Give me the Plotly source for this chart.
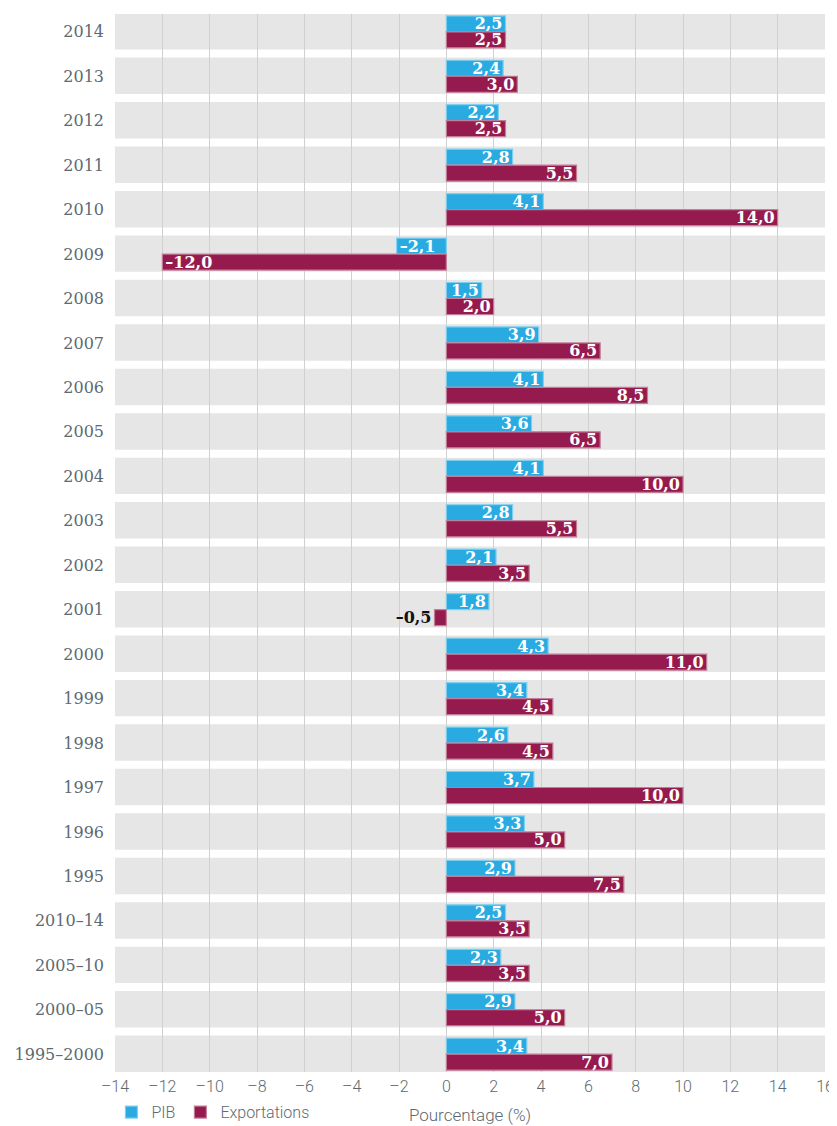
import plotly.graph_objects as go

categories = ["2014", "2013", "2012", "2011", "2010", "2009", "2008", "2007", "2006", "2005",
              "2004", "2003", "2002", "2001", "2000", "1999", "1998", "1997", "1996", "1995",
              "2010–14", "2005–10", "2000–05", "1995–2000"]
pib = [2.5, 2.4, 2.2, 2.8, 4.1, -2.1, 1.5, 3.9, 4.1, 3.6, 4.1, 2.8, 2.1, 1.8, 4.3, 3.4, 2.6, 3.7,
       3.3, 2.9, 2.5, 2.3, 2.9, 3.4]
exportations = [2.5, 3.0, 2.5, 5.5, 14.0, -12.0, 2.0, 6.5, 8.5, 6.5, 10.0, 5.5, 3.5, -0.5, 11.0,
                4.5, 4.5, 10.0, 5.0, 7.5, 3.5, 3.5, 5.0, 7.0]
x_ticks = list(range(-14, 17, 2))

def fmt(v):
    return f"{v:.1f}".replace(".", ",").replace("-", "–")

def tick(v):
    return str(v).replace("-", "–")

n = len(categories)
idx = list(range(n))

label_font = "DejaVu Serif"
sans = "Roboto, sans-serif"
gray_txt = "#5d6a72"

fig = go.Figure()

def positions(vals):
    # small bars whose label would not fit are labelled outside
    return ["outside" if abs(v) < 1.0 else "inside" for v in vals]

fig.add_trace(go.Bar(
    y=idx, x=pib, orientation="h", name="PIB",
    marker=dict(color="#29abe2", line=dict(color="#7fd0f0", width=1.2)),
    text=[fmt(v) for v in pib], textposition=positions(pib),
    insidetextanchor="end", textangle=0, constraintext="none",
    insidetextfont=dict(color="white", size=16, family=label_font, weight="bold"),
    outsidetextfont=dict(color="#111111", size=16, family=label_font, weight="bold"),
    cliponaxis=False,
))
fig.add_trace(go.Bar(
    y=idx, x=exportations, orientation="h", name="Exportations",
    marker=dict(color="#951b4f", line=dict(color="#c47d99", width=1.2)),
    text=[fmt(v) for v in exportations], textposition=positions(exportations),
    insidetextanchor="end", textangle=0, constraintext="none",
    insidetextfont=dict(color="white", size=16, family=label_font, weight="bold"),
    outsidetextfont=dict(color="#111111", size=16, family=label_font, weight="bold"),
    cliponaxis=False,
))

shapes = []
for i in idx:
    shapes.append(dict(type="rect", xref="x", x0=x_ticks[0], x1=x_ticks[-1], yref="y",
                       y0=i - 0.42, y1=i + 0.4, fillcolor="#e6e6e6",
                       line=dict(width=0), layer="below"))

fig.update_layout(
    width=829, height=1118,
    paper_bgcolor="white", plot_bgcolor="rgba(0,0,0,0)",
    margin=dict(l=107, r=12, t=6, b=54, autoexpand=False),
    barmode="group", bargap=0.28, bargroupgap=0,
    shapes=shapes,
    showlegend=True,
    legend=dict(orientation="h", x=-0.005, xanchor="left", y=-0.038, yanchor="middle",
                font=dict(family=sans, size=16, color=gray_txt, weight=300), itemwidth=30,
                traceorder="normal"),
    xaxis=dict(range=[-14, 16], tickvals=x_ticks, ticktext=[tick(v) for v in x_ticks],
               showgrid=True, gridcolor="#d0d0d0", gridwidth=1, zeroline=False,
               showline=False, ticks="", automargin=False, ticklabelstandoff=3,
               ticklabeloverflow="allow",
               tickfont=dict(family=sans, size=16, color=gray_txt, weight=300),
               title=dict(text="Pourcentage (%)", standoff=14,
                          font=dict(family=sans, size=17, color=gray_txt, weight=300))),
    yaxis=dict(range=[23.4, -0.4], tickvals=idx, ticktext=categories,
               showgrid=False, zeroline=False, showline=False, ticks="",
               ticklabelstandoff=10, automargin=False,
               tickfont=dict(family=label_font, size=16, color=gray_txt)),
)

fig.write_html("out.html")
